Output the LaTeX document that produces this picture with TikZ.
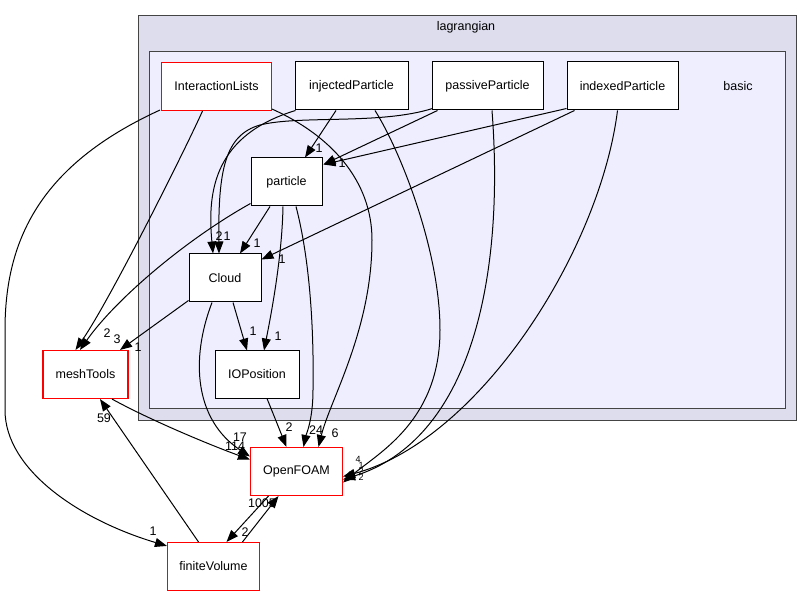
\documentclass[tikz,border=0pt]{standalone}
\usepackage{fontspec}
\setmainfont{Liberation Sans}
\usetikzlibrary{arrows.meta,calc}
\definecolor{outerfill}{HTML}{DDDDEE}
\definecolor{innerfill}{HTML}{EEEEFF}
\definecolor{clborder}{HTML}{444444}
\begin{document}
\begin{tikzpicture}[x=1pt,y=-1pt,
 box/.style={draw=black,line width=1pt,fill=white,minimum height=48pt,inner sep=0pt,font=\fontsize{12.5}{15}\selectfont},
 redbox/.style={box,draw=red,line width=1.1pt},
 edge/.style={line width=1pt,-{Triangle[length=12pt,width=9pt]}},
 lbl/.style={font=\fontsize{12.5}{15}\selectfont,inner sep=0pt},
 cl/.style={draw=clborder,line width=1pt}]
\useasboundingbox (0,0) rectangle (812,596);
\fill[white] (0,0) rectangle (812,596);
% clusters
\draw[cl,fill=outerfill] (138.5,15.5) rectangle (796.5,420.5);
\node[lbl] (lagr) at (466,27) {lagrangian};
\draw[cl,fill=innerfill] (149.5,51.5) rectangle (785.5,408.5);
\node[lbl] (basic) at (738,86) {basic};
% nodes
\node[redbox,minimum width=110pt] (IL) at (216.5,86.5) {InteractionLists};
\node[box,minimum width=113pt] (inj) at (351.5,86) {injectedParticle};
\node[box,minimum width=111pt] (pas) at (487.5,86) {passiveParticle};
\node[box,minimum width=111pt] (idx) at (622.5,86) {indexedParticle};
\node[box,minimum width=71pt] (part) at (286.5,182) {particle};
\node[box,minimum width=72pt] (cloud) at (225,278) {Cloud};
\node[box,minimum width=84pt,minimum height=47pt] (iop) at (257,374.5) {IOPosition};
\node[redbox,minimum width=85pt] (mesh) at (85.5,374.5) {meshTools};
\node[redbox,minimum width=92pt] (of) at (296.5,471.5) {OpenFOAM};
\node[redbox,minimum width=92pt] (fv) at (213.5,566.5) {finiteVolume};
% edges
\draw[edge] ([xshift=-14pt]IL.south) .. controls (185,150) and (110,300) .. ([xshift=-10pt]mesh.north);
\node[lbl] (l1) at (107,333) {2};
\draw[edge] ([xshift=-1pt,yshift=1pt]IL.south west) .. controls (40,165) and (5,240) .. (5,330) -- (5,410) .. controls (5,470) and (80,520) .. ([yshift=-4pt]fv.north west);
\node[lbl] (l2) at (153,531) {1};
\draw[edge] ([yshift=2pt]IL.south east) .. controls (330,135) and (372,180) .. (372,240) .. controls (372,330) and (330,400) .. ([xshift=22pt]of.north);
\node[lbl] (l3) at (335,433) {6};
\draw[edge] ([xshift=-15.5pt]inj.south) -- ([xshift=18.5pt]part.north);
\node[lbl] (l4) at (319,148) {1};
\draw[edge] ([xshift=1pt]inj.south west) .. controls (215,135) and (207,190) .. ([xshift=-12pt]cloud.north);
\node[lbl] (l5) at (219,236) {2};
\draw[edge] ([xshift=6pt]pas.south west) -- ([xshift=1pt,yshift=-7pt]part.north east);
\draw[edge] ([yshift=2pt]idx.south west) -- ([xshift=1pt,yshift=-7pt]part.north east);
\node[lbl] (l6) at (342,163) {1};
\draw[edge] ([xshift=1pt,yshift=2pt]pas.south west) .. controls (380,125) and (300,115) .. (260,125) .. controls (225,135) and (218,170) .. ([xshift=-6pt]cloud.north);
\node[lbl] (l7) at (227,236) {1};
\draw[edge] ([xshift=8pt]idx.south west) -- ([yshift=-6pt]cloud.north east);
\node[lbl] (l8) at (282,259) {1};
\draw[edge] ([xshift=-5pt]idx.south) .. controls (600,250) and (480,440) .. ([yshift=-5pt]of.east);
\draw[edge] ([xshift=4.5pt]pas.south) .. controls (505,280) and (470,440) .. ([yshift=-8pt]of.east);
\draw[edge] ([xshift=23.5pt]inj.south) .. controls (400,150) and (440,250) .. (440,330) .. controls (440,420) and (380,452) .. ([yshift=-11pt]of.east);
\node[lbl,font=\fontsize{9}{10}\selectfont] (l9) at (358,459) {4};
\node[lbl,font=\fontsize{9}{10}\selectfont] (l10) at (361,465) {1};
\node[lbl,font=\fontsize{9}{10}\selectfont] (l11) at (361,471) {2};
\node[lbl,font=\fontsize{9}{10}\selectfont] (l12) at (361,477) {2};
\draw[edge] ([xshift=-16.5pt]part.south) -- ([xshift=15pt]cloud.north);
\node[lbl] (l13) at (257,243) {1};
\draw[edge] ([yshift=3pt]part.south west) .. controls (185,240) and (115,300) .. ([xshift=-5.5pt]mesh.north);
\node[lbl] (l14) at (117,339) {3};
\draw[edge] ([yshift=2pt]cloud.south west) -- ([xshift=34.5pt]mesh.north);
\node[lbl] (l15) at (138,347) {1};
\draw[edge] ([xshift=-3.5pt]part.south) .. controls (282,260) and (270,320) .. ([xshift=7pt]iop.north);
\node[lbl] (l16) at (278,336) {1};
\draw[edge] ([xshift=8pt]cloud.south) -- ([xshift=-10pt]iop.north);
\node[lbl] (l17) at (253,331) {1};
\draw[edge] ([xshift=10pt]iop.south) -- ([xshift=-10pt]of.north);
\node[lbl] (l18) at (289,427) {2};
\draw[edge] ([xshift=9.5pt]part.south) .. controls (310,260) and (314,330) .. (313,390) .. controls (313,420) and (306,435) .. ([xshift=7pt]of.north);
\node[lbl] (l19) at (316,430) {24};
\draw[edge] ([xshift=-13pt]cloud.south) .. controls (190,360) and (195,420) .. ([yshift=15pt]of.west);
\node[lbl] (l20) at (240,437) {17};
\draw[edge] ([xshift=26.5pt]mesh.south) .. controls (150,420) and (210,445) .. ([yshift=12pt]of.west);
\node[lbl] (l21) at (235,446) {114};
\draw[edge] ([xshift=-15pt]fv.north) -- ([xshift=14.5pt]mesh.south);
\node[lbl] (l22) at (104,418) {59};
\draw[edge] ([xshift=-28pt]of.south) -- ([xshift=13pt]fv.north);
\node[lbl] (l23) at (245,532) {2};
\node[lbl] (l24) at (262,503) {1005};
\draw[edge] ([xshift=29pt]fv.north) -- ([xshift=-18pt]of.south);
\end{tikzpicture}
\end{document}
